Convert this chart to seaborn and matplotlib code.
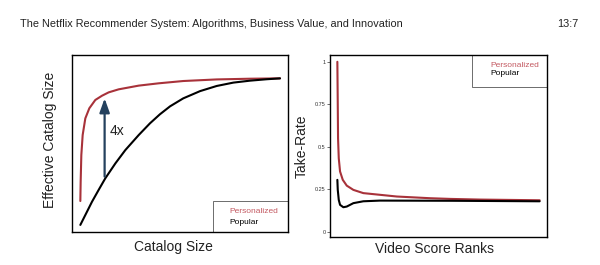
import matplotlib
matplotlib.use("Agg")
import matplotlib.pyplot as plt
import seaborn as sns
import pandas as pd
from matplotlib.patches import Rectangle

sns.set_theme(style="white")
plt.rcParams['font.family'] = ['Liberation Sans', 'DejaVu Sans']

# ---- Left panel data: effective catalog size vs catalog size ----
cat_pers_x = [3.86, 4.01, 4.32, 4.94, 6.17, 8.02, 10.8, 13.9, 17.0, 21.6, 30.9, 40.1, 51.5, 67.0, 82.4, 96.3]
cat_pers_y = [17.5, 28.4, 43.5, 54.8, 64.2, 69.9, 74.6, 77.0, 78.9, 80.6, 82.7, 84.0, 85.3, 86.2, 86.6, 86.8]
cat_pop_x = [3.86, 6.17, 9.26, 12.3, 15.4, 20.1, 24.7, 30.9, 36.1, 40.7, 45.4, 51.5, 59.3, 67.0, 74.7, 82.4, 90.1, 96.3]
cat_pop_y = [4.0, 9.6, 17.1, 23.7, 30.3, 38.8, 46.3, 54.8, 61.4, 66.5, 71.0, 75.5, 79.6, 82.5, 84.4, 85.5, 86.3, 86.8]
arrow_x = 15.1
arrow_from = 31.3
arrow_to = 75.5

# ---- Right panel data: take-rate vs video score rank ----
rank_pers = [1, 1.2, 1.34, 1.69, 2.32, 3.65, 5.6, 8.84, 13.7, 21.9, 30.1, 46.4, 56.2, 71, 100]
take_pers = [1.0, 0.747, 0.55, 0.433, 0.355, 0.306, 0.272, 0.247, 0.228, 0.218, 0.208, 0.198, 0.194, 0.19, 0.186]
rank_pop = [1, 1.2, 1.69, 2.32, 3.94, 5.6, 8.84, 13.7, 21.9, 56.2, 100]
take_pop = [0.306, 0.247, 0.188, 0.159, 0.145, 0.149, 0.169, 0.18, 0.184, 0.183, 0.18]
yticks = [0, 0.25, 0.5, 0.75, 1]
ytick_labels = ["0", "0.25", "0.5", "0.75", "1"]

labels = ["Personalized", "Popular"]
RED = "#a8323a"
LEG_RED = "#c45a62"
NAVY = "#24415e"

W, H = 600, 265
fig = plt.figure(figsize=(6, 2.65), dpi=100)
fig.patch.set_facecolor("white")

def ax_rect(l, t, r, b):
    return [l / W, 1 - b / H, (r - l) / W, (b - t) / H]

fig.text(20 / W, 1 - 24 / H,
         "The Netflix Recommender System: Algorithms, Business Value, and Innovation",
         fontsize=7.8, va="center", ha="left", color="#222222")
fig.text(578 / W, 1 - 24 / H, "13:7", fontsize=7.8, va="center", ha="right", color="#222222")

# Left panel
ax1 = fig.add_axes(ax_rect(72, 55, 288, 232))
df_pers1 = pd.DataFrame({"x": cat_pers_x, "y": cat_pers_y})
df_pop1 = pd.DataFrame({"x": cat_pop_x, "y": cat_pop_y})
sns.lineplot(data=df_pers1, x="x", y="y", ax=ax1, color=RED, lw=1.5)
sns.lineplot(data=df_pop1, x="x", y="y", ax=ax1, color="black", lw=1.5)
ax1.annotate("", xy=(arrow_x, arrow_to), xytext=(arrow_x, arrow_from),
             arrowprops=dict(arrowstyle="-|>,head_width=0.25,head_length=0.7",
                             color=NAVY, lw=1.6, shrinkA=0, shrinkB=0))
ax1.text(17.2, 57, "4x", fontsize=10, color="#222222", va="center")
ax1.set_xlim(0, 100)
ax1.set_ylim(0, 100)
ax1.set_xticks([])
ax1.set_yticks([])
ax1.set_xlabel("Catalog Size", fontsize=10, color="#222222")
ax1.set_ylabel("Effective Catalog Size", fontsize=10, color="#222222")
ax1.xaxis.set_label_coords(0.47, -0.045)
ax1.yaxis.set_label_coords(-0.07, 0.52)
for s in ax1.spines.values():
    s.set_color("black")
    s.set_linewidth(1.0)
ax1.add_patch(Rectangle((0.653, 0), 0.347, 0.175, transform=ax1.transAxes,
                        fill=False, ec="#555555", lw=0.6))
ax1.text(0.73, 0.113, labels[0], transform=ax1.transAxes, fontsize=6, color=LEG_RED, va="center")
ax1.text(0.73, 0.056, labels[1], transform=ax1.transAxes, fontsize=6, color="black", va="center")

# Right panel
ax2 = fig.add_axes(ax_rect(330, 55, 547, 237))
df_pers2 = pd.DataFrame({"x": rank_pers, "y": take_pers})
df_pop2 = pd.DataFrame({"x": rank_pop, "y": take_pop})
sns.lineplot(data=df_pers2, x="x", y="y", ax=ax2, color=RED, lw=1.5)
sns.lineplot(data=df_pop2, x="x", y="y", ax=ax2, color="black", lw=1.5)
ax2.set_xlim(-2.6, 103.6)
ax2.set_ylim(-0.03, 1.04)
ax2.set_xticks([])
ax2.set_yticks(yticks)
ax2.set_yticklabels(ytick_labels)
ax2.tick_params(axis="y", labelsize=4, length=2, width=0.5, colors="#333333", pad=1, left=True)
ax2.set_xlabel("Video Score Ranks", fontsize=10, color="#222222")
ax2.set_ylabel("Take-Rate", fontsize=10, color="#222222")
ax2.xaxis.set_label_coords(0.48, -0.03)
ax2.yaxis.set_label_coords(-0.1, 0.5)
for s in ax2.spines.values():
    s.set_color("black")
    s.set_linewidth(1.0)
ax2.add_patch(Rectangle((0.654, 0.824), 0.346, 0.176, transform=ax2.transAxes,
                        fill=False, ec="#555555", lw=0.6))
ax2.text(0.737, 0.945, labels[0], transform=ax2.transAxes, fontsize=6, color=LEG_RED, va="center")
ax2.text(0.737, 0.896, labels[1], transform=ax2.transAxes, fontsize=6, color="black", va="center")

fig.savefig("out.png", dpi=100, facecolor="white")
